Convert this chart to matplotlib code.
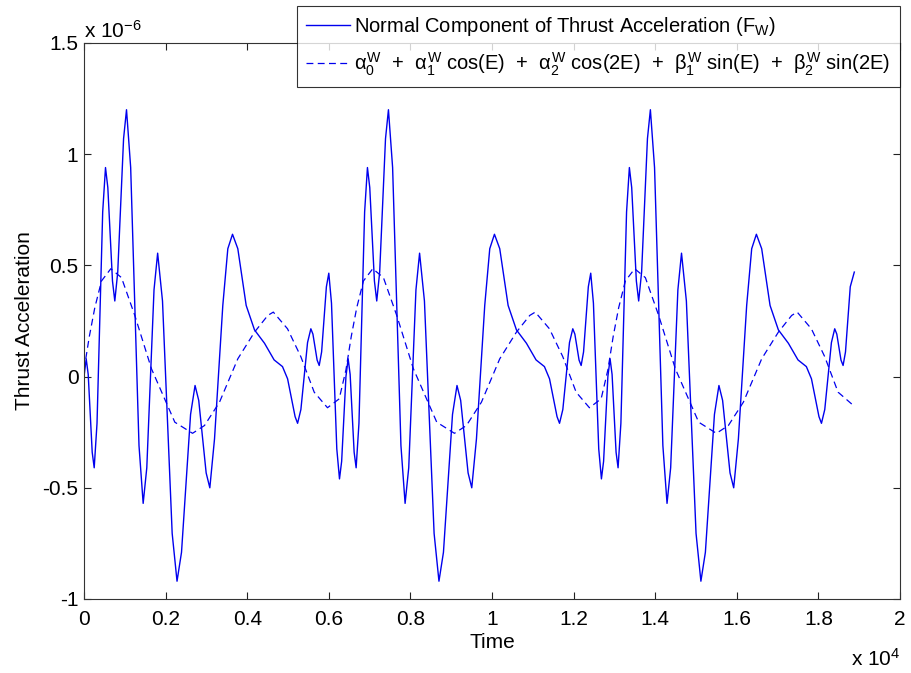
import matplotlib
matplotlib.use("Agg")
import numpy as np
import matplotlib.pyplot as plt
from matplotlib.ticker import FuncFormatter, MultipleLocator

plt.rcParams["font.family"] = ["Liberation Sans", "DejaVu Sans"]
plt.rcParams["mathtext.fontset"] = "custom"
plt.rcParams["mathtext.rm"] = "Liberation Sans"
plt.rcParams["mathtext.it"] = "Liberation Sans"
plt.rcParams["mathtext.bf"] = "Liberation Sans:bold"

# normal thrust acceleration (time [s], value [1e-6])
t_fw = [
    0, 54, 103, 201, 250, 319, 458, 527, 584, 698, 755, 827, 970, 1042, 1144,
    1348, 1450, 1539, 1716, 1805, 1924, 2161, 2280, 2390, 2612, 2722, 2812,
    2994, 3084, 3199, 3402, 3525, 3640, 3770, 3975, 4179, 4424, 4660, 4865,
    4990, 5174, 5235, 5316, 5479, 5560, 5611, 5714, 5765, 5824, 5941, 6000,
    6066, 6196, 6262, 6315,
    6420, 6474, 6523, 6621, 6670, 6739, 6878, 6947, 7004, 7118, 7175, 7247,
    7390, 7462, 7564, 7768, 7870, 7959, 8136, 8225, 8344, 8581, 8700, 8810,
    9032, 9142, 9232, 9414, 9504, 9619, 9822, 9945, 10060, 10190, 10395,
    10599, 10844, 11080, 11285, 11410, 11594, 11655, 11736, 11899, 11980,
    12031, 12134, 12185, 12244, 12361, 12420, 12486, 12616, 12682, 12735,
    12840, 12894, 12943, 13041, 13090, 13159, 13298, 13367, 13424, 13538,
    13595, 13667, 13810, 13882, 13984, 14188, 14290, 14379, 14556, 14645,
    14764, 15001, 15120, 15230, 15452, 15562, 15652, 15834, 15924, 16039,
    16242, 16365, 16480, 16610, 16815, 17019, 17264, 17500, 17705, 17830,
    18014, 18075, 18156, 18319, 18400, 18451, 18554, 18605, 18664, 18781,
    18880,
]
fw = [
    0.0, 0.08, 0.01, -0.34, -0.41, -0.21, 0.74, 0.94, 0.85, 0.43, 0.34, 0.47,
    1.07, 1.20, 0.94, -0.31, -0.57, -0.41, 0.39, 0.555, 0.34, -0.705, -0.92,
    -0.79, -0.17, -0.04, -0.107, -0.433, -0.50, -0.28, 0.32, 0.575, 0.64,
    0.575, 0.32, 0.21, 0.15, 0.075, 0.045, -0.01, -0.18, -0.21, -0.148,
    0.153, 0.215, 0.191, 0.074, 0.05, 0.111, 0.404, 0.465, 0.33, -0.325,
    -0.46, -0.381,
    0.0, 0.08, 0.01, -0.34, -0.41, -0.21, 0.74, 0.94, 0.85, 0.43, 0.34, 0.47,
    1.07, 1.20, 0.94, -0.31, -0.57, -0.41, 0.39, 0.555, 0.34, -0.705, -0.92,
    -0.79, -0.17, -0.04, -0.107, -0.433, -0.50, -0.28, 0.32, 0.575, 0.64,
    0.575, 0.32, 0.21, 0.15, 0.075, 0.045, -0.01, -0.18, -0.21, -0.148,
    0.153, 0.215, 0.191, 0.074, 0.05, 0.111, 0.404, 0.465, 0.33, -0.325,
    -0.46, -0.381,
    0.0, 0.08, 0.01, -0.34, -0.41, -0.21, 0.74, 0.94, 0.85, 0.43, 0.34, 0.47,
    1.07, 1.20, 0.94, -0.31, -0.57, -0.41, 0.39, 0.555, 0.34, -0.705, -0.92,
    -0.79, -0.17, -0.04, -0.107, -0.433, -0.50, -0.28, 0.32, 0.575, 0.64,
    0.575, 0.32, 0.21, 0.15, 0.075, 0.045, -0.01, -0.18, -0.21, -0.148,
    0.153, 0.215, 0.191, 0.074, 0.05, 0.111, 0.404,
    0.47,
]

# fourier fit curve (time [s], value [1e-6])
t_fit = [
    0, 130, 265, 429, 657, 919, 1245, 1654, 2226, 2660, 2953, 3321, 3770,
    4179, 4505, 4640, 4988, 5314, 5642, 5968, 6255,
    6420, 6550, 6685, 6849, 7077, 7339, 7665, 8074, 8646, 9080, 9373, 9741,
    10190, 10599, 10925, 11060, 11408, 11734, 12062, 12388, 12675,
    12840, 12970, 13105, 13269, 13497, 13759, 14085, 14494, 15066, 15500,
    15793, 16161, 16610, 17019, 17345, 17480, 17828, 18154, 18482, 18890,
]
fit = [
    0.03, 0.18, 0.31, 0.43, 0.485, 0.445, 0.275, 0.035, -0.205, -0.255,
    -0.22, -0.115, 0.08, 0.20, 0.275, 0.29, 0.215, 0.09, -0.07, -0.14, -0.10,
    0.03, 0.18, 0.31, 0.43, 0.485, 0.445, 0.275, 0.035, -0.205, -0.255,
    -0.22, -0.115, 0.08, 0.20, 0.275, 0.29, 0.215, 0.09, -0.07, -0.14, -0.10,
    0.03, 0.18, 0.31, 0.43, 0.485, 0.445, 0.275, 0.035, -0.205, -0.255,
    -0.22, -0.115, 0.08, 0.20, 0.275, 0.29, 0.215, 0.09, -0.07, -0.135,
]

label_fw = "Normal Component of Thrust Acceleration (F$_\\mathrm{W}$)"
label_fit = (r"$\alpha_0^W$  +  $\alpha_1^W$ cos(E)  +  $\alpha_2^W$ cos(2E)  +  "
             r"$\beta_1^W$ sin(E)  +  $\beta_2^W$ sin(2E)")

fig = plt.figure(figsize=(9.11, 6.73), dpi=100)
ax = fig.add_axes([84 / 911, 1 - 599 / 673, 816 / 911, 556 / 673])

ax.plot(t_fw, np.array(fw) * 1e-6, color="#0000ee", lw=1.0, label=label_fw)
ax.plot(t_fit, np.array(fit) * 1e-6, color="#0000ee", lw=0.9,
        linestyle=(0, (5.5, 3.5)), label=label_fit)

ax.set_xlim(0, 2e4)
ax.set_ylim(-1e-6, 1.5e-6)
ax.xaxis.set_major_locator(MultipleLocator(2000))
ax.yaxis.set_major_locator(MultipleLocator(0.5e-6))
ax.xaxis.set_major_formatter(FuncFormatter(lambda v, p: "%g" % round(v / 1e4, 3)))
ax.yaxis.set_major_formatter(FuncFormatter(lambda v, p: "%g" % round(v / 1e-6, 3)))

ax.tick_params(direction="in", length=5, width=0.8, colors="#222222",
               labelcolor="black", labelsize=15, top=True, right=True)
ax.tick_params(axis="x", pad=8)
ax.tick_params(axis="y", pad=4)
for s in ax.spines.values():
    s.set_color("#333333")
    s.set_linewidth(0.8)

ax.set_xlabel("Time", fontsize=15, labelpad=3)
ax.set_ylabel("Thrust Acceleration", fontsize=15, labelpad=6)

ax.text(0.0, 1.003, r"x 10$^{-6}$", transform=ax.transAxes, fontsize=15,
        ha="left", va="bottom")
ax.text(1.0, -0.088, r"x 10$^{4}$", transform=ax.transAxes, fontsize=15,
        ha="right", va="top")

leg = ax.legend(loc="upper left", bbox_to_anchor=(297 / 911, 1 - 6 / 673),
                bbox_transform=fig.transFigure, fontsize=14.5, frameon=True,
                fancybox=False, borderaxespad=0, handlelength=2.2,
                handletextpad=0.2, borderpad=0.45, labelspacing=0.6)
leg.get_frame().set_edgecolor("black")
leg.get_frame().set_linewidth(0.8)

fig.savefig("out.png", dpi=100)
